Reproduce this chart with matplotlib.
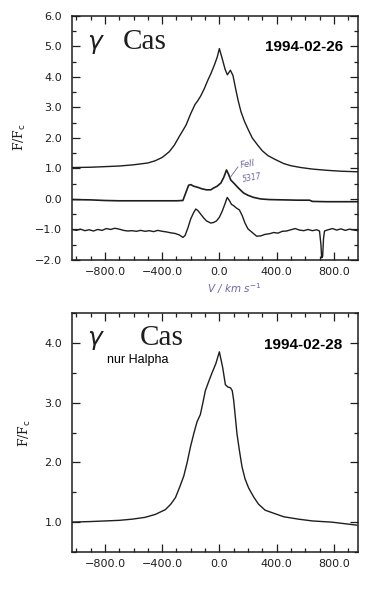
import numpy as np
import matplotlib.pyplot as plt
from matplotlib.ticker import MultipleLocator, FixedLocator

# --- 1994-02-26: H-alpha, Fe II 5317 und Differenzspektrum ---
v_ha1 = [-1030, -900, -800, -700, -600, -500, -450, -400, -350, -314, -280, -233,
         -200, -170, -151, -130, -105, -80, -60, -35, -15, 0, 20, 40, 56, 77, 95,
         110, 130, 151, 175, 198, 230, 267, 300, 340, 384, 450, 500, 570, 650,
         750, 850, 970]
f_ha1 = [1.03, 1.04, 1.06, 1.08, 1.12, 1.18, 1.25, 1.36, 1.55, 1.77, 2.05, 2.42,
         2.8, 3.1, 3.22, 3.38, 3.62, 3.9, 4.1, 4.39, 4.65, 4.93, 4.6, 4.25, 4.07,
         4.22, 4.05, 3.7, 3.25, 2.86, 2.55, 2.31, 2.0, 1.77, 1.58, 1.42, 1.31,
         1.16, 1.09, 1.03, 0.98, 0.94, 0.91, 0.89]

v_fe = [-1030, -900, -800, -700, -600, -500, -400, -300, -255, -235, -215, -200,
        -180, -150, -120, -90, -60, -40, -15, 10, 30, 50, 65, 80, 105, 135, 168,
        200, 240, 290, 350, 450, 550, 630, 650, 750, 850, 970]
f_fe = [-0.02, -0.03, -0.05, -0.06, -0.06, -0.06, -0.06, -0.06, -0.05, 0.2, 0.45,
        0.47, 0.42, 0.38, 0.33, 0.3, 0.3, 0.36, 0.42, 0.52, 0.7, 0.95, 0.8, 0.62,
        0.5, 0.35, 0.2, 0.12, 0.05, 0.0, -0.02, -0.03, -0.04, -0.04, -0.08, -0.09,
        -0.09, -0.09]

v_diff = [-1030, -1000, -970, -940, -910, -880, -850, -820, -790, -760, -730, -700,
          -670, -640, -610, -580, -550, -520, -490, -460, -430, -400, -370, -340,
          -310, -280, -255, -240, -220, -200, -180, -165, -150, -130, -110, -90,
          -60, -40, -20, 0, 20, 40, 55, 70, 85, 100, 120, 140, 160, 180, 200, 230,
          260, 290, 320, 350, 380, 410, 440, 470, 500, 530, 560, 590, 620, 650,
          680, 700, 710, 715, 722, 728, 735, 760, 790, 820, 850, 880, 910, 940, 970]
f_diff = [-1.0, -1.03, -0.99, -1.04, -1.01, -1.05, -1.0, -1.03, -0.97, -1.0, -0.96,
          -0.99, -1.03, -1.05, -1.04, -1.06, -1.03, -1.06, -1.04, -1.07, -1.03,
          -1.06, -1.08, -1.11, -1.13, -1.18, -1.26, -1.2, -0.95, -0.65, -0.45,
          -0.33, -0.38, -0.5, -0.62, -0.72, -0.79, -0.77, -0.72, -0.6, -0.4,
          -0.15, 0.05, -0.05, -0.18, -0.22, -0.3, -0.36, -0.55, -0.8, -0.98, -1.1,
          -1.22, -1.21, -1.16, -1.14, -1.1, -1.12, -1.06, -1.05, -1.01, -0.97,
          -1.02, -1.04, -1.0, -1.04, -1.01, -1.05, -1.5, -1.93, -1.88, -1.3, -1.05,
          -1.01, -0.97, -1.02, -0.98, -1.03, -0.99, -1.02, -1.04]

# --- 1994-02-28: nur H-alpha ---
v_ha2 = [-1037, -900, -800, -700, -609, -520, -447, -377, -340, -307, -280, -249,
         -225, -202, -179, -156, -133, -115, -98, -75, -51, -25, 0, 23, 42, 60,
         77, 90, 100, 112, 123, 140, 158, 180, 205, 240, 274, 320, 367, 450, 553,
         650, 786, 960]
f_ha2 = [1.0, 1.01, 1.02, 1.03, 1.05, 1.08, 1.13, 1.21, 1.3, 1.41, 1.57, 1.77,
         2.0, 2.26, 2.48, 2.68, 2.8, 3.0, 3.2, 3.35, 3.5, 3.65, 3.85, 3.59, 3.3,
         3.26, 3.25, 3.2, 3.04, 2.75, 2.48, 2.2, 1.93, 1.72, 1.57, 1.42, 1.3, 1.2,
         1.16, 1.09, 1.05, 1.02, 1.0, 0.95]

xticks = [-800, -400, 0, 400, 800]
xtick_labels = ['\u2212800.0', '\u2212400.0', '0.0', '400.0', '800.0']
yticks_top = [-2, -1, 0, 1, 2, 3, 4, 5, 6]
ytick_labels_top = ['\u22122.0', '\u22121.0', '0.0', '1.0', '2.0', '3.0', '4.0', '5.0', '6.0']
yticks_bot = [1, 2, 3, 4]
ytick_labels_bot = ['1.0', '2.0', '3.0', '4.0']

ink = '#1e1e1e'
hand = '#6f63a8'

fig = plt.figure(figsize=(3.81, 5.93), dpi=100)
ax1 = fig.add_axes([0.189, 0.5616, 0.751, 0.4115])
ax2 = fig.add_axes([0.189, 0.0691, 0.751, 0.4031])


def style(ax, yt, ytl, ylim):
    ax.set_xlim(-1030, 970)
    ax.set_ylim(*ylim)
    ax.xaxis.set_major_locator(FixedLocator(xticks))
    ax.set_xticklabels(xtick_labels)
    ax.xaxis.set_minor_locator(MultipleLocator(100))
    ax.yaxis.set_major_locator(FixedLocator(yt))
    ax.set_yticklabels(ytl)
    ax.yaxis.set_minor_locator(MultipleLocator(0.5))
    ax.tick_params(which='both', direction='in', top=True, right=True,
                   colors=ink, labelsize=8, width=0.9)
    ax.tick_params(which='major', length=6, pad=5)
    ax.tick_params(axis='y', which='major', pad=7)
    ax.tick_params(which='minor', length=3)
    for s in ax.spines.values():
        s.set_linewidth(1.1)
        s.set_color(ink)


style(ax1, yticks_top, ytick_labels_top, (-2.0, 6.0))
style(ax2, yticks_bot, ytick_labels_bot, (0.5, 4.5))

ax1.plot(v_ha1, f_ha1, color=ink, lw=1.0)
ax1.plot(v_fe, f_fe, color=ink, lw=1.2)
ax1.plot(v_diff, f_diff, color=ink, lw=1.0)
ax2.plot(v_ha2, f_ha2, color=ink, lw=1.0)

for ax, xc in ((ax1, 0.178), (ax2, 0.238)):
    ax.text(0.052, 0.865, r'$\gamma$', transform=ax.transAxes, fontsize=18,
            family='DejaVu Serif', color=ink, va='baseline')
    ax.text(xc, 0.865, 'Cas', transform=ax.transAxes, fontsize=21,
            family='Liberation Serif', color=ink, va='baseline')

ax1.text(0.948, 0.873, '1994-02-26', transform=ax1.transAxes, ha='right',
         va='center', fontsize=11, fontweight='bold', family='Liberation Sans')
ax2.text(0.944, 0.866, '1994-02-28', transform=ax2.transAxes, ha='right',
         va='center', fontsize=11, fontweight='bold', family='Liberation Sans')
ax2.text(0.122, 0.803, 'nur Halpha', transform=ax2.transAxes, ha='left',
         va='center', fontsize=9, family='Liberation Sans')

# handschriftliche Notizen
ax1.plot([75, 130], [0.7, 1.05], color=hand, lw=0.6)
ax1.text(140, 1.0, 'FeII', fontsize=6, color=hand, style='italic', rotation=10)
ax1.text(155, 0.55, '5317', fontsize=5.5, color=hand, style='italic', rotation=10)
fig.text(234 / 381, 1 - 289 / 593, r'V / km s$^{-1}$', fontsize=7.5, color=hand,
         ha='center', va='center', style='italic')

fig.text(20 / 381, 1 - 137 / 593, r'F/F$_\mathrm{c}$', rotation=90, fontsize=9,
         family='DejaVu Serif', ha='center', va='center', color=ink)
fig.text(25 / 381, 1 - 433 / 593, r'F/F$_\mathrm{c}$', rotation=90, fontsize=9,
         family='DejaVu Serif', ha='center', va='center', color=ink)

fig.savefig('out.png', dpi=100)
